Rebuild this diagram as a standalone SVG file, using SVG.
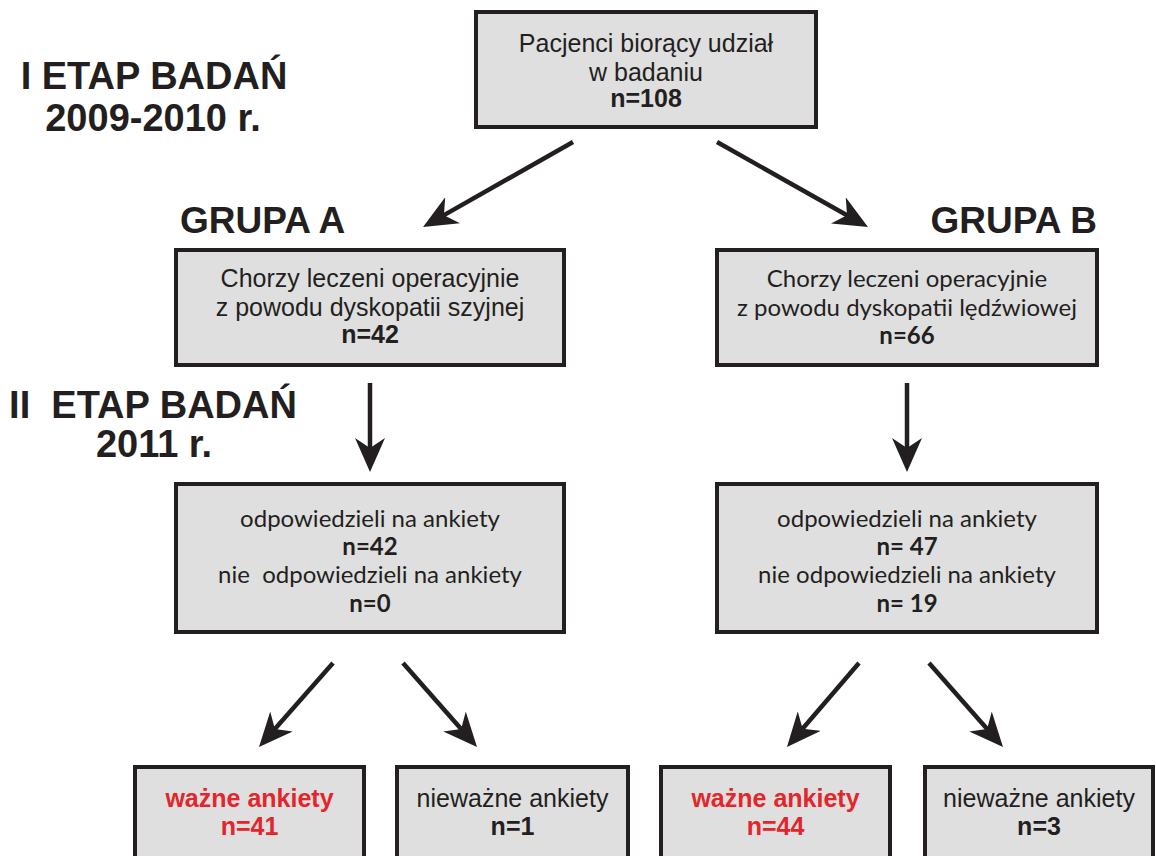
<svg xmlns="http://www.w3.org/2000/svg" width="1156" height="856" viewBox="0 0 1156 856">
<style>
.box{fill:#dfdfdf;stroke:#231f20;stroke-width:4}
.a{font-family:"Liberation Sans",Arial,sans-serif;font-size:25px;fill:#231f20;text-anchor:middle}
.m{font-family:Lato,"Open Sans",sans-serif;font-size:24px;fill:#231f20;text-anchor:middle}
.b{font-weight:bold}
.red{fill:#e2262b}
.stage{font-family:"Liberation Sans",Arial,sans-serif;font-size:38px;font-weight:bold;fill:#231f20;text-anchor:middle;white-space:pre}
.grp{font-family:"Liberation Sans",Arial,sans-serif;font-size:37px;font-weight:bold;fill:#231f20}
.conn{stroke:#231f20;stroke-width:4.5;fill:none;marker-end:url(#ah)}
</style>
<defs>
<marker id="ah" markerUnits="userSpaceOnUse" markerWidth="34" markerHeight="30" viewBox="0 0 34 30" refX="16" refY="15" orient="auto">
<path d="M0,0 L34,15 L0,30 L10,15 Z" fill="#231f20"/>
</marker>
</defs>
<rect width="1156" height="856" fill="#ffffff"/>
<g id="labels">
<text class="stage" x="154" y="89">I ETAP BADAŃ</text>
<text class="stage" x="153" y="131">2009-2010 r.</text>
<text class="stage" x="153" y="418">II  ETAP BADAŃ</text>
<text class="stage" x="154" y="457">2011 r.</text>
<text class="grp" x="180" y="233">GRUPA A</text>
<text class="grp" x="1097" y="233" text-anchor="end">GRUPA B</text>
</g>
<g id="n-top">
<rect class="box" x="476" y="12" width="340" height="115"/>
<text class="a" x="646" y="52">Pacjenci biorący udział</text>
<text class="a" x="646" y="81">w badaniu</text>
<text class="a b" x="646" y="107">n=108</text>
</g>
<g id="n-a1">
<rect class="box" x="176" y="250" width="388" height="115"/>
<text class="a" x="370" y="287">Chorzy leczeni operacyjnie</text>
<text class="a" x="370" y="316">z powodu dyskopatii szyjnej</text>
<text class="a b" x="370" y="343">n=42</text>
</g>
<g id="n-b1">
<rect class="box" x="717" y="250" width="380" height="115"/>
<text class="m" x="907" y="287">Chorzy leczeni operacyjnie</text>
<text class="m" x="907" y="316">z powodu dyskopatii lędźwiowej</text>
<text class="m b" x="907" y="344">n=66</text>
</g>
<g id="n-a2">
<rect class="box" x="176" y="484" width="388" height="148"/>
<text class="m" x="370" y="527">odpowiedzieli na ankiety</text>
<text class="m b" x="370" y="555">n=42</text>
<text class="m" x="370" y="583" style="white-space:pre">nie  odpowiedzieli na ankiety</text>
<text class="m b" x="370" y="612">n=0</text>
</g>
<g id="n-b2">
<rect class="box" x="717" y="484" width="380" height="148"/>
<text class="m" x="907" y="527">odpowiedzieli na ankiety</text>
<text class="m b" x="907" y="555" style="white-space:pre">n= 47</text>
<text class="m" x="907" y="583">nie odpowiedzieli na ankiety</text>
<text class="m b" x="907" y="612" style="white-space:pre">n= 19</text>
</g>
<g id="n-c1">
<rect class="box" x="135" y="767" width="229" height="120"/>
<text class="a b red" x="249.5" y="807">ważne ankiety</text>
<text class="a b red" x="249.5" y="835">n=41</text>
</g>
<g id="n-c2">
<rect class="box" x="397" y="767" width="231" height="120"/>
<text class="a" x="512.5" y="807">nieważne ankiety</text>
<text class="a b" x="512.5" y="835">n=1</text>
</g>
<g id="n-c3">
<rect class="box" x="661" y="767" width="229" height="120"/>
<text class="a b red" x="775.5" y="807">ważne ankiety</text>
<text class="a b red" x="775.5" y="835">n=44</text>
</g>
<g id="n-c4">
<rect class="box" x="925" y="767" width="228" height="120"/>
<text class="a" x="1039" y="807">nieważne ankiety</text>
<text class="a b" x="1039" y="835">n=3</text>
</g>
<g id="connectors">
<line class="conn" x1="573" y1="142" x2="438.7" y2="218.1"/>
<line class="conn" x1="717" y1="142" x2="852.3" y2="218.2"/>
<line class="conn" x1="370" y1="383" x2="370" y2="454"/>
<line class="conn" x1="907" y1="383" x2="907" y2="454"/>
<line class="conn" x1="333" y1="663" x2="270.9" y2="733.5"/>
<line class="conn" x1="403" y1="663" x2="465.1" y2="733.5"/>
<line class="conn" x1="859" y1="663" x2="798.7" y2="733.3"/>
<line class="conn" x1="929" y1="663" x2="991.1" y2="733.5"/>
</g>
</svg>
